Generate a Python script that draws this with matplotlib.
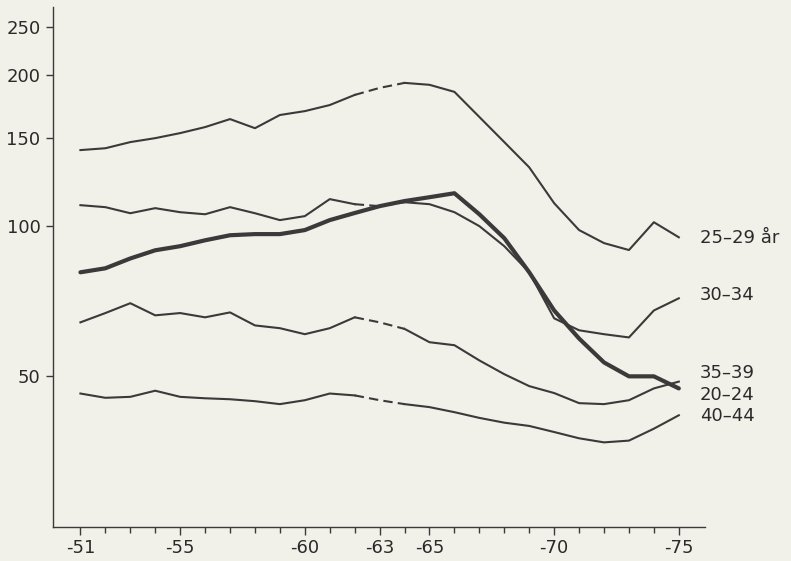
import numpy as np
import matplotlib
matplotlib.use('Agg')
import matplotlib.pyplot as plt
from matplotlib.ticker import FixedLocator, NullLocator

##############################################################################
# Data (log scale, one value per year)
years = np.arange(1951, 1976)

age_25_29 = [141.6, 142.8, 146.9, 149.6, 153.1, 157.4, 163.3, 156.6, 166.4, 169.4,
             174.2, 182.5, 188.5, 192.9, 191.2, 185.1, 164.9, 146.9, 130.8, 110.9,
             98.0, 92.3, 89.4, 101.6, 94.8]
age_30_34 = [109.9, 108.9, 105.9, 108.4, 106.4, 105.4, 108.9, 105.9, 102.6, 104.5,
             113.0, 110.4, 109.4, 111.4, 110.4, 106.4, 99.8, 91.0, 80.7, 65.3,
             61.8, 60.7, 59.8, 67.7, 71.6]
age_20_24 = [80.7, 82.2, 86.0, 89.3, 91.0, 93.5, 95.7, 96.2, 96.2, 98.0,
             102.6, 106.0, 109.4, 112.0, 114.0, 116.1, 105.4, 94.4, 80.7, 67.7,
             59.5, 53.3, 50.0, 50.0, 47.3]
age_35_39 = [64.1, 66.9, 70.0, 66.2, 66.9, 65.6, 67.1, 63.2, 62.4, 60.7,
             62.4, 65.6, 64.1, 62.2, 58.5, 57.7, 53.8, 50.5, 47.8, 46.3,
             44.2, 44.0, 44.8, 47.3, 48.8]
age_40_44 = [46.2, 45.3, 45.5, 46.8, 45.5, 45.2, 45.0, 44.6, 44.0, 44.8,
             46.2, 45.8, 44.8, 44.0, 43.4, 42.4, 41.3, 40.4, 39.8, 38.7,
             37.6, 36.9, 37.2, 39.3, 41.8]

series_labels = ['25\u201329 år', '30\u201334', '35\u201339', '20\u201324', '40\u201344']

x_ticks = [1951, 1955, 1960, 1963, 1965, 1970, 1975]
x_tick_labels = ['-51', '-55', '-60', '-63', '-65', '-70', '-75']
y_ticks = [50, 100, 150, 200, 250]

gap_years = (1962, 1964)   # dashed stretch in the thin curves

##############################################################################
# Plot
bg = '#f1f0e9'
ink = '#3a3a3a'
plt.rcParams['font.family'] = ['DejaVu Sans']

fig = plt.figure(figsize=(7.91, 5.61), dpi=100, facecolor=bg)
ax = fig.add_axes([53 / 791, 1 - 527 / 561, (705 - 53) / 791, (527 - 7) / 561])
ax.set_facecolor(bg)


def draw(values, lw, dashed=True):
    values = np.asarray(values)
    if not dashed:
        ax.plot(years, values, color=ink, lw=lw, solid_capstyle='round')
        return
    a, b = gap_years
    left = years <= a
    mid = (years >= a) & (years <= b)
    right = years >= b
    ax.plot(years[left], values[left], color=ink, lw=lw)
    ax.plot(years[mid], values[mid], color=ink, lw=lw, ls=(0, (4.5, 2.5)))
    ax.plot(years[right], values[right], color=ink, lw=lw)


draw(age_25_29, 1.5)
draw(age_30_34, 1.5)
draw(age_35_39, 1.5)
draw(age_40_44, 1.5)
draw(age_20_24, 3.0, dashed=False)

# series names at the right end
label_y = [94.4, 72.6, 50.7, 45.8, 41.6]
for name, yv in zip(series_labels, label_y):
    ax.text(1975.85, yv, name, ha='left', va='center', fontsize=13, color='#2a2a2a')

ax.set_yscale('log')
ax.set_ylim(25, 273.5)
ax.set_xlim(1949.9, 1976.05)

ax.yaxis.set_major_locator(FixedLocator(y_ticks))
ax.yaxis.set_minor_locator(NullLocator())
ax.set_yticklabels([str(v) for v in y_ticks])

ax.xaxis.set_major_locator(FixedLocator(x_ticks))
ax.xaxis.set_minor_locator(FixedLocator(list(years)))
ax.set_xticklabels(x_tick_labels)

for s in ['top', 'right']:
    ax.spines[s].set_visible(False)
for s in ['left', 'bottom']:
    ax.spines[s].set_color(ink)
    ax.spines[s].set_linewidth(1.0)

ax.tick_params(axis='both', which='major', direction='out', length=5, width=1,
               color=ink, labelsize=13, labelcolor='#2a2a2a', pad=4)
ax.tick_params(axis='x', which='minor', direction='out', length=4, width=1, color=ink)
ax.tick_params(axis='x', which='major', length=6, pad=2.5)

fig.savefig('out.png', dpi=100, facecolor=bg)
